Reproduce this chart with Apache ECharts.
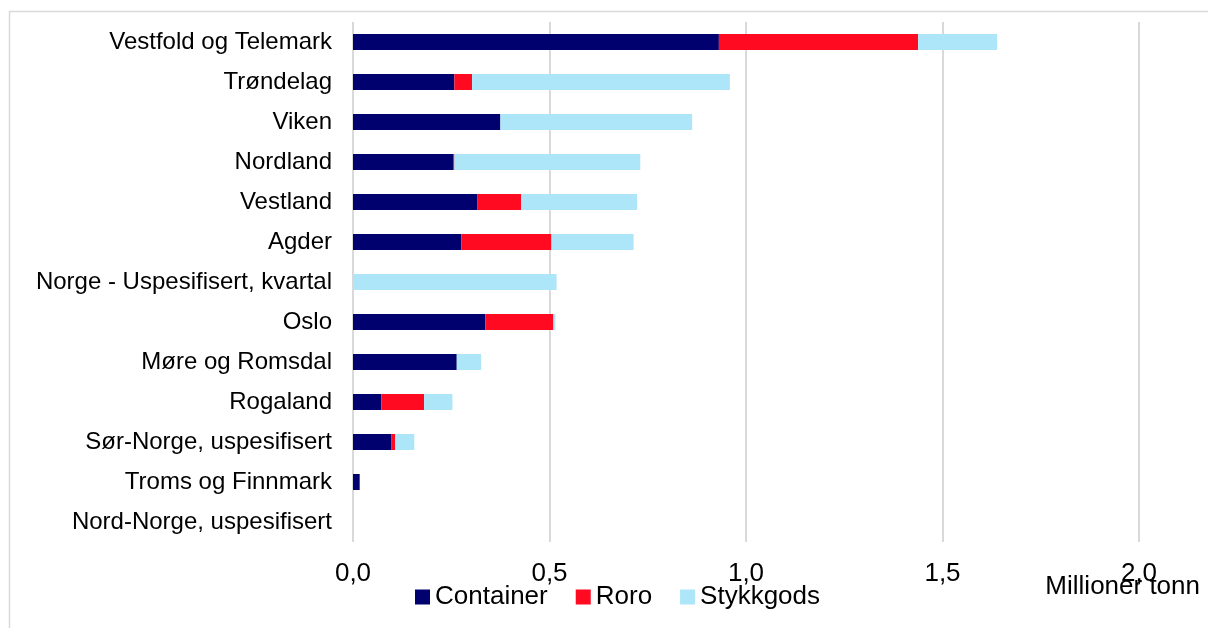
<!DOCTYPE html>
<html>
<head>
<meta charset="utf-8">
<script src="https://cdn.jsdelivr.net/npm/echarts@6/dist/echarts.min.js"></script>
<style>
html,body{margin:0;padding:0;background:#fff;}
#chart{width:1208px;height:628px;}
</style>
</head>
<body>
<div id="chart"></div>
<script>
const categories = ['Vestfold og Telemark','Trøndelag','Viken','Nordland','Vestland','Agder','Norge - Uspesifisert, kvartal','Oslo','Møre og Romsdal','Rogaland','Sør-Norge, uspesifisert','Troms og Finnmark','Nord-Norge, uspesifisert'];
const container = [0.931,0.258,0.375,0.256,0.317,0.276,0,0.337,0.264,0.072,0.097,0.017,0];
const roro      = [0.507,0.045,0,0.002,0.111,0.229,0,0.173,0,0.109,0.010,0,0];
const stykkgods = [0.201,0.656,0.488,0.473,0.295,0.209,0.518,0.005,0.062,0.072,0.049,0,0];
const seriesNames = ['Container','Roro','Stykkgods'];
const unitLabel = 'Millioner tonn';

const FONT = '"Liberation Sans", Arial, sans-serif';
const chart = echarts.init(document.getElementById('chart'));
const colors = ['#00006e','#ff0a20','#ade5f9'];
const dataSets = [container, roro, stykkgods];

chart.setOption({
  animation: false,
  backgroundColor: '#fff',
  textStyle: {fontFamily: FONT, color: '#000'},
  graphic: [{
    type: 'rect', silent: true,
    shape: {x: 9.5, y: 11.5, width: 1300, height: 700},
    style: {fill: 'none', stroke: '#d9d9d9', lineWidth: 1.5}
  }],
  title: {
    text: unitLabel, right: 3, top: 569,
    textStyle: {fontFamily: FONT, fontSize: 26, fontWeight: 'normal', color: '#000'}
  },
  legend: {
    left: 410, top: 579,
    itemWidth: 15, itemHeight: 15, itemGap: 28,
    icon: 'rect',
    textStyle: {fontFamily: FONT, fontSize: 26, color: '#000'},
    data: seriesNames
  },
  grid: {left: 353, right: 69, top: 22, bottom: 86, containLabel: false},
  xAxis: {
    type: 'value', min: 0, max: 2, interval: 0.5,
    axisLine: {show: false}, axisTick: {show: false},
    splitLine: {show: true, lineStyle: {color: '#d9d9d9', width: 2}},
    axisLabel: {
      margin: 19, fontFamily: FONT, fontSize: 26, color: '#000',
      formatter: v => v.toFixed(1).replace('.', ',')
    }
  },
  yAxis: {
    type: 'category', data: categories, inverse: true,
    axisLine: {show: false}, axisTick: {show: false},
    axisLabel: {margin: 21, fontFamily: FONT, fontSize: 24, color: '#000'}
  },
  series: seriesNames.map((n, i) => ({
    name: n, type: 'bar', stack: 'total', barWidth: 16,
    itemStyle: {color: colors[i]},
    data: dataSets[i]
  }))
});
</script>
</body>
</html>
